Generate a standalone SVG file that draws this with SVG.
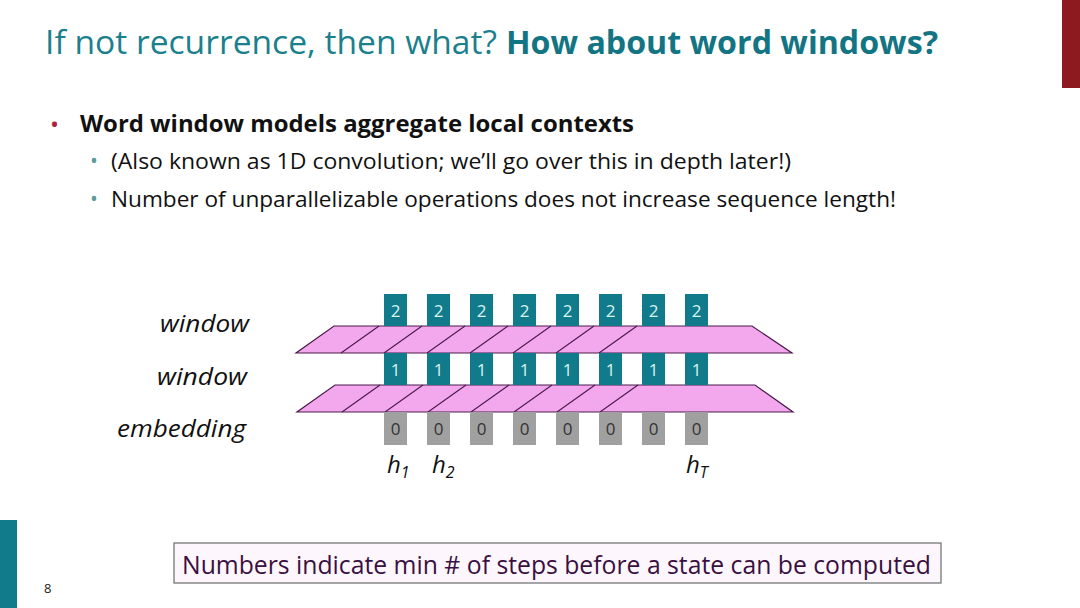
<svg xmlns="http://www.w3.org/2000/svg" width="1080" height="608" viewBox="0 0 1080 608">
<style>
.t{font-family:"Open Sans","Liberation Sans",sans-serif}
.box2,.box1{fill:#127b8b}
.box0{fill:#a0a0a0}
.num{font-family:"Open Sans","Liberation Sans",sans-serif;font-size:17px;text-anchor:middle}
.nl{fill:#d9f3f3}
.nd{fill:#333}
.band{fill:#f3a8ee;stroke:#4a1a4a;stroke-width:1.2}
.sep{stroke:#4a1a4a;stroke-width:1.1;fill:none}
.lab{font-family:"Open Sans","Liberation Sans",sans-serif;font-style:italic;font-size:24px;fill:#111}
</style>
<rect width="1080" height="608" fill="#fff"/>
<rect x="1062" y="0" width="18" height="88" fill="#8c1a1f"/>
<rect x="0" y="520" width="17" height="88" fill="#127b8b"/>
<text class="t" x="44" y="593" font-size="13" fill="#222">8</text>

<g id="title">
<text class="t" x="45" y="54" font-size="33" fill="#1b808d" textLength="452" lengthAdjust="spacingAndGlyphs">If not recurrence, then what?</text>
<text class="t" x="506" y="54" font-size="33" font-weight="bold" fill="#137583" textLength="432" lengthAdjust="spacingAndGlyphs">How about word windows?</text>
</g>

<g id="bullets">
<text class="t" x="50" y="133" font-size="24" fill="#b01f3e">•</text>
<text class="t" x="80" y="132" font-size="24" font-weight="bold" fill="#111" textLength="554" lengthAdjust="spacingAndGlyphs">Word window models aggregate local contexts</text>
<text class="t" x="90" y="168" font-size="21" fill="#5b9b9b">•</text>
<text class="t" x="111" y="169" font-size="22" fill="#111" textLength="680" lengthAdjust="spacingAndGlyphs">(Also known as 1D convolution; we’ll go over this in depth later!)</text>
<text class="t" x="90" y="206" font-size="21" fill="#5b9b9b">•</text>
<text class="t" x="111" y="207" font-size="22" fill="#111" textLength="785" lengthAdjust="spacingAndGlyphs">Number of unparallelizable operations does not increase sequence length!</text>
</g>

<g id="labels">
<text class="lab" x="160" y="332" textLength="89" lengthAdjust="spacingAndGlyphs">window</text>
<text class="lab" x="157" y="385" textLength="90" lengthAdjust="spacingAndGlyphs">window</text>
<text class="lab" x="117" y="437" textLength="129" lengthAdjust="spacingAndGlyphs">embedding</text>
<text class="lab" x="387" y="473">h<tspan font-size="16" dy="5">1</tspan></text>
<text class="lab" x="432" y="473">h<tspan font-size="16" dy="5">2</tspan></text>
<text class="lab" x="686" y="473">h<tspan font-size="16" dy="5">T</tspan></text>
</g>

<g id="connectors">
<g id="window2">
<polygon class="band" points="334,326 752,326 792,353 296,353"/>
<path class="sep" d="M341,353 L379,326 M384,353 L422,326 M427,353 L465,326 M470,353 L508,326 M513,353 L551,326 M556,353 L594,326 M599,353 L637,326"/>
</g>
<g id="window1">
<polygon class="band" points="335,385 755,385 793,412 297,412"/>
<path class="sep" d="M342,412 L380,385 M385,412 L423,385 M428,412 L466,385 M471,412 L509,385 M514,412 L552,385 M557,412 L595,385 M600,412 L638,385"/>
</g>
</g>

<g id="layer2">
<g id="n2-1"><rect class="box2" x="384" y="294" width="23" height="32"/><text class="num nl" x="395.5" y="317">2</text></g>
<g id="n2-2"><rect class="box2" x="427" y="294" width="23" height="32"/><text class="num nl" x="438.5" y="317">2</text></g>
<g id="n2-3"><rect class="box2" x="470" y="294" width="23" height="32"/><text class="num nl" x="481.5" y="317">2</text></g>
<g id="n2-4"><rect class="box2" x="513" y="294" width="23" height="32"/><text class="num nl" x="524.5" y="317">2</text></g>
<g id="n2-5"><rect class="box2" x="556" y="294" width="23" height="32"/><text class="num nl" x="567.5" y="317">2</text></g>
<g id="n2-6"><rect class="box2" x="599" y="294" width="23" height="32"/><text class="num nl" x="610.5" y="317">2</text></g>
<g id="n2-7"><rect class="box2" x="642" y="294" width="23" height="32"/><text class="num nl" x="653.5" y="317">2</text></g>
<g id="n2-8"><rect class="box2" x="685" y="294" width="23" height="32"/><text class="num nl" x="696.5" y="317">2</text></g>
</g>
<g id="layer1">
<g id="n1-1"><rect class="box1" x="384" y="353" width="23" height="32"/><text class="num nl" x="395.5" y="376">1</text></g>
<g id="n1-2"><rect class="box1" x="427" y="353" width="23" height="32"/><text class="num nl" x="438.5" y="376">1</text></g>
<g id="n1-3"><rect class="box1" x="470" y="353" width="23" height="32"/><text class="num nl" x="481.5" y="376">1</text></g>
<g id="n1-4"><rect class="box1" x="513" y="353" width="23" height="32"/><text class="num nl" x="524.5" y="376">1</text></g>
<g id="n1-5"><rect class="box1" x="556" y="353" width="23" height="32"/><text class="num nl" x="567.5" y="376">1</text></g>
<g id="n1-6"><rect class="box1" x="599" y="353" width="23" height="32"/><text class="num nl" x="610.5" y="376">1</text></g>
<g id="n1-7"><rect class="box1" x="642" y="353" width="23" height="32"/><text class="num nl" x="653.5" y="376">1</text></g>
<g id="n1-8"><rect class="box1" x="685" y="353" width="23" height="32"/><text class="num nl" x="696.5" y="376">1</text></g>
</g>
<g id="layer0">
<g id="n0-1"><rect class="box0" x="384" y="412" width="23" height="33"/><text class="num nd" x="395.5" y="435">0</text></g>
<g id="n0-2"><rect class="box0" x="427" y="412" width="23" height="33"/><text class="num nd" x="438.5" y="435">0</text></g>
<g id="n0-3"><rect class="box0" x="470" y="412" width="23" height="33"/><text class="num nd" x="481.5" y="435">0</text></g>
<g id="n0-4"><rect class="box0" x="513" y="412" width="23" height="33"/><text class="num nd" x="524.5" y="435">0</text></g>
<g id="n0-5"><rect class="box0" x="556" y="412" width="23" height="33"/><text class="num nd" x="567.5" y="435">0</text></g>
<g id="n0-6"><rect class="box0" x="599" y="412" width="23" height="33"/><text class="num nd" x="610.5" y="435">0</text></g>
<g id="n0-7"><rect class="box0" x="642" y="412" width="23" height="33"/><text class="num nd" x="653.5" y="435">0</text></g>
<g id="n0-8"><rect class="box0" x="685" y="412" width="23" height="33"/><text class="num nd" x="696.5" y="435">0</text></g>
</g>

<g id="note">
<rect x="174" y="543" width="767" height="40" fill="#fdf7fd" stroke="#777" stroke-width="1.3"/>
<text class="t" x="182" y="574" font-size="25" fill="#3a1040" textLength="749" lengthAdjust="spacingAndGlyphs">Numbers indicate min # of steps before a state can be computed</text>
</g>
</svg>
